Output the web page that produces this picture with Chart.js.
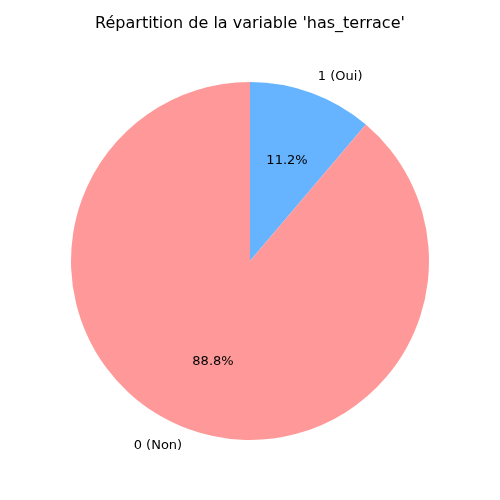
<!DOCTYPE html>
<html>
<head>
<meta charset="utf-8">
<script src="https://cdn.jsdelivr.net/npm/chart.js@4.4.0/dist/chart.umd.min.js"></script>
<style>
  body { margin: 0; background: #fff; }
  #wrap { width: 500px; height: 500px; }
</style>
</head>
<body>
<div id="wrap"><canvas id="chart" width="500" height="500"></canvas></div>
<script>
// Clockwise from the top, so "Oui" comes first
const categories = ["1 (Oui)", "0 (Non)"];
const shares = [11.2, 88.8];
const sliceColors = ["#66b3ff", "#ff9999"];
const chartTitle = "Répartition de la variable 'has_terrace'";

const FONT = "'DejaVu Sans', sans-serif";

// matplotlib-style labels: name at 1.1 r, percent at 0.6 r
const pieLabels = {
    id: "pieLabels",
    afterDatasetsDraw(chart) {
        const ctx = chart.ctx;
        const meta = chart.getDatasetMeta(0);
        ctx.save();
        ctx.fillStyle = "#000";
        meta.data.forEach((arc, i) => {
            const mid = (arc.startAngle + arc.endAngle) / 2;
            const r = arc.outerRadius;
            const cos = Math.cos(mid), sin = Math.sin(mid);

            ctx.font = "13px " + FONT;
            ctx.textBaseline = "middle";
            ctx.textAlign = cos >= 0 ? "left" : "right";
            ctx.fillText(categories[i], arc.x + 1.1 * r * cos, arc.y + 1.1 * r * sin);

            ctx.textAlign = "center";
            ctx.fillText(shares[i].toFixed(1) + "%", arc.x + 0.6 * r * cos, arc.y + 0.6 * r * sin);
        });
        ctx.font = "16px " + FONT;
        ctx.textAlign = "center";
        ctx.textBaseline = "middle";
        ctx.fillText(chartTitle, 250, 24);
        ctx.restore();
    }
};

new Chart(document.getElementById("chart").getContext("2d"), {
    type: "pie",
    data: {
        labels: categories,
        datasets: [{
            data: shares,
            backgroundColor: sliceColors,
            borderWidth: 0,
        }],
    },
    options: {
        responsive: false,
        animation: false,
        layout: { padding: { left: 71, right: 71, top: 82, bottom: 60 } },
        plugins: {
            legend: { display: false },
            title: { display: false },
            tooltip: { enabled: false },
        },
    },
    plugins: [pieLabels],
});
</script>
</body>
</html>
